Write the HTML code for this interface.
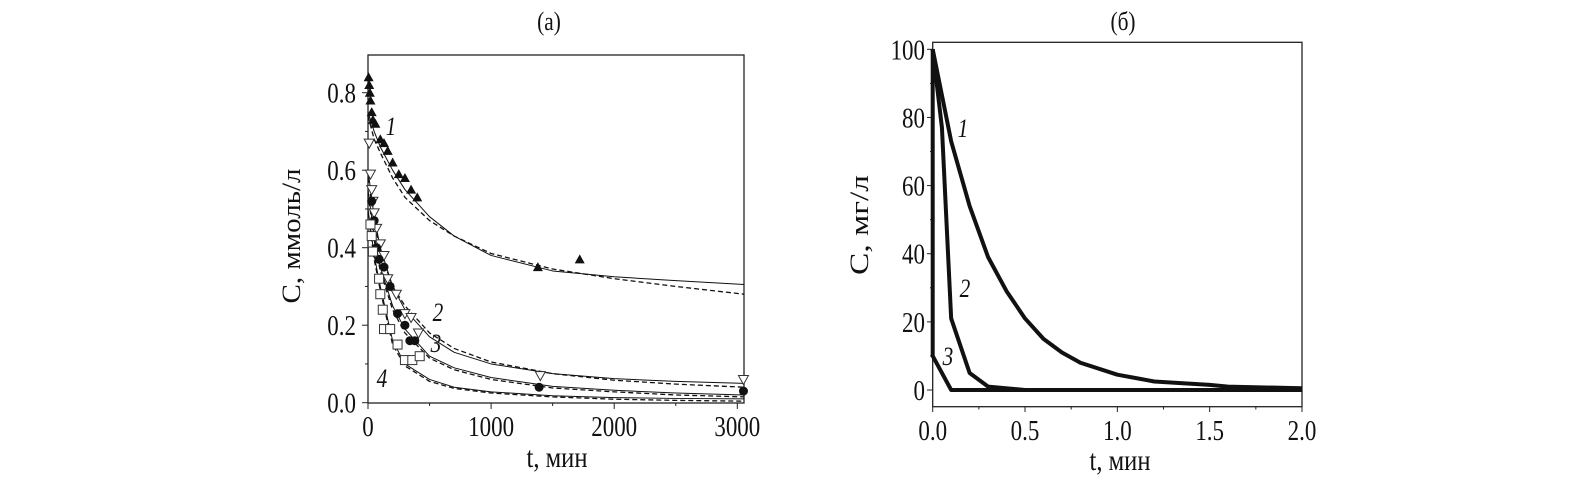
<!DOCTYPE html>
<html><head><meta charset="utf-8"><style>
body{margin:0;background:#fff;}
svg{display:block;font-family:"Liberation Serif",serif;}
</style></head><body>
<svg id="chart" width="1594" height="479" viewBox="0 0 1594 479" xmlns="http://www.w3.org/2000/svg">
<g id="pa"></g>
<g id="pb"></g>
</svg>
<script>
// Panel (a) data
const aTicksX = [0, 1000, 2000, 3000];
const aTicksY = [0.0, 0.2, 0.4, 0.6, 0.8];
const aFitT = [0, 50, 100, 200, 300, 500, 700, 1000, 1500, 2000, 2500, 3055];
const a1Solid = [0.75, 0.70, 0.66, 0.60, 0.55, 0.48, 0.43, 0.38, 0.34, 0.325, 0.315, 0.305];
const a1Dash = [0.74, 0.68, 0.645, 0.58, 0.53, 0.47, 0.43, 0.385, 0.345, 0.32, 0.30, 0.28];
const a2Solid = [0.60, 0.48, 0.40, 0.30, 0.24, 0.17, 0.13, 0.10, 0.075, 0.062, 0.055, 0.05];
const a2Dash = [0.58, 0.47, 0.39, 0.30, 0.25, 0.18, 0.14, 0.105, 0.075, 0.058, 0.048, 0.04];
const a3Solid = [0.55, 0.43, 0.35, 0.25, 0.19, 0.12, 0.09, 0.065, 0.042, 0.032, 0.025, 0.02];
const a3Dash = [0.54, 0.42, 0.34, 0.24, 0.18, 0.115, 0.085, 0.06, 0.038, 0.028, 0.02, 0.015];
const a4Solid = [0.50, 0.38, 0.30, 0.16, 0.10, 0.06, 0.04, 0.028, 0.018, 0.013, 0.011, 0.01];
const a4Dash = [0.49, 0.37, 0.29, 0.15, 0.095, 0.055, 0.037, 0.025, 0.015, 0.009, 0.006, 0.004];
const m1T = [5,10,15,20,30,40,60,100,130,160,200,250,300,350,400,1380,1720];
const m1C = [0.84,0.82,0.80,0.78,0.75,0.73,0.72,0.68,0.67,0.65,0.62,0.59,0.58,0.55,0.53,0.35,0.37];
const m2T = [10,20,30,40,50,70,100,130,160,230,300,350,410,1400,3050];
const m2C = [0.67,0.59,0.55,0.52,0.49,0.45,0.41,0.38,0.32,0.28,0.23,0.22,0.18,0.07,0.06];
const m3T = [30,50,70,90,130,180,240,300,340,380,1390,3050];
const m3C = [0.52,0.47,0.40,0.37,0.35,0.30,0.23,0.20,0.16,0.16,0.04,0.03];
const m4T = [20,30,40,90,100,120,130,180,240,300,360,420];
const m4C = [0.46,0.43,0.39,0.32,0.28,0.24,0.19,0.19,0.15,0.11,0.11,0.12];
// Panel (б) data
const bTicksX = [0.0, 0.5, 1.0, 1.5, 2.0];
const bTicksY = [0, 20, 40, 60, 80, 100];
const b1T = [0,0.1,0.2,0.3,0.4,0.5,0.6,0.7,0.8,1.0,1.2,1.5,1.6,2.0];
const b1C = [100,73,54,39,29,21,15,11,8,4.5,2.5,1.5,1,0.5];
const b2T = [0,0.05,0.1,0.2,0.3,0.5,2.0];
const b2C = [100,77,21,5,1,0,0];
const b3T = [0,0,0.1,2.0];
const b3C = [100,10,0,0];

const NS="http://www.w3.org/2000/svg";
function mk(parent,tag,attrs){const e=document.createElementNS(NS,tag);for(const k in attrs)e.setAttribute(k,attrs[k]);parent.appendChild(e);return e;}
function txt(parent,x,y,s,size,extra,sx){
  const t=mk(parent,'text',Object.assign({x:0,y:0,'font-size':size,'text-anchor':'middle',fill:'#111',transform:`translate(${x},${y}) scale(${sx||0.82},1)`},extra||{}));
  t.textContent=s;return t;}

// Panel a scales
const ax=t=>368+t*(737.3-368)/3000;
const ay=c=>402.7-c*(402.7-92.7)/0.8;
const pa=document.getElementById('pa');
let r=mk(pa,'rect',{x:368,y:55,width:376,height:348,fill:'none',stroke:'#222','stroke-width':1.3});


aTicksX.forEach(v=>{
  const l=mk(pa,'line',{x1:ax(v),x2:ax(v),y1:403,y2:409,stroke:'#222'});
  
  const t=txt(pa,ax(v),436,String(v),28);
  
});
[500,1500,2500].forEach(v=>{mk(pa,'line',{x1:ax(v),x2:ax(v),y1:403,y2:406,stroke:'#222'});});
aTicksY.forEach(v=>{
  const l=mk(pa,'line',{x1:362,x2:368,y1:ay(v),y2:ay(v),stroke:'#222'});
  
  const t=txt(pa,356,ay(v)+10,v.toFixed(1),28,{'text-anchor':'end'});
  
});
[0.1,0.3,0.5,0.7].forEach(v=>{mk(pa,'line',{x1:365,x2:368,y1:ay(v),y2:ay(v),stroke:'#222'});});
function pl(parent,T,C,fx,fy,w,dash,name){
  const p=mk(parent,'polyline',{points:T.map((t,i)=>fx(t)+','+fy(C[i])).join(' '),fill:'none',stroke:'#111','stroke-width':w,'stroke-linejoin':'round'});
  if(dash)p.setAttribute('stroke-dasharray',dash);
  
  
}
pl(pa,aFitT,a1Solid,ax,ay,1,null,'curve-1-fit');
pl(pa,aFitT,a1Dash,ax,ay,1.3,'5,3','curve-1-dashed');
pl(pa,aFitT,a2Solid,ax,ay,1,null,'curve-2-fit');
pl(pa,aFitT,a2Dash,ax,ay,1.3,'5,3','curve-2-dashed');
pl(pa,aFitT,a3Solid,ax,ay,1,null,'curve-3-fit');
pl(pa,aFitT,a3Dash,ax,ay,1.3,'5,3','curve-3-dashed');
pl(pa,aFitT,a4Solid,ax,ay,1,null,'curve-4-fit');
pl(pa,aFitT,a4Dash,ax,ay,1.3,'5,3','curve-4-dashed');
function markers(T,C,kind,name){
  T.forEach((t,i)=>{
    const x=ax(t),y=ay(C[i]);let e;
    if(kind==='tu')e=mk(pa,'polygon',{points:`${x},${y-5} ${x-5},${y+4} ${x+5},${y+4}`,fill:'#111'});
    else if(kind==='td')e=mk(pa,'polygon',{points:`${x},${y+5} ${x-5},${y-4} ${x+5},${y-4}`,fill:'#fff',stroke:'#333'});
    else if(kind==='c')e=mk(pa,'circle',{cx:x,cy:y,r:4.5,fill:'#111'});
    else e=mk(pa,'rect',{x:x-4.5,y:y-4.5,width:9,height:9,fill:'#fff',stroke:'#333'});
    
    
  });
}
markers(m1T,m1C,'tu','marker-series-1');
markers(m2T,m2C,'td','marker-series-2');
markers(m3T,m3C,'c','marker-series-3');
markers(m4T,m4C,'s','marker-series-4');
[['1',391,135],['2',438,321],['3',436,352],['4',382,387]].forEach(a=>{
  const t=txt(pa,a[1],a[2],a[0],26,{'font-style':'italic'});
  
});
let t=txt(pa,549,30,'(a)',26);
t=txt(pa,557,467,'t, мин',30);
t=mk(pa,'text',{x:0,y:0,'font-size':26,'text-anchor':'middle',fill:'#111',textLength:135,lengthAdjust:'spacingAndGlyphs',transform:'translate(300,236) rotate(-90)'});
t.textContent='C, ммоль/л';


// Panel b
const bx=v=>932.7+v*(1302-932.7)/2;
const by=v=>390-v*(390-49.3)/100;
const pb=document.getElementById('pb');
r=mk(pb,'rect',{x:932.7,y:42.3,width:369.3,height:364.4,fill:'none',stroke:'#222','stroke-width':1.3});


bTicksX.forEach(v=>{
  const l=mk(pb,'line',{x1:bx(v),x2:bx(v),y1:406.7,y2:412,stroke:'#222'});
  
  const t=txt(pb,bx(v),440,v.toFixed(1),28);
  
});
[0.25,0.75,1.25,1.75].forEach(v=>{mk(pb,'line',{x1:bx(v),x2:bx(v),y1:406.7,y2:409.5,stroke:'#222'});});
bTicksY.forEach(v=>{
  const l=mk(pb,'line',{x1:927,x2:932.7,y1:by(v),y2:by(v),stroke:'#222'});
  
  const t=txt(pb,925,by(v)+10,String(v),28,{'text-anchor':'end'});
  
});
[10,30,50,70,90].forEach(v=>{mk(pb,'line',{x1:930,x2:932.7,y1:by(v),y2:by(v),stroke:'#222'});});
pl(pb,b1T,b1C,bx,by,4,null,'curve-b-1');
pl(pb,b2T,b2C,bx,by,4,null,'curve-b-2');
pl(pb,b3T,b3C,bx,by,4,null,'curve-b-3');
[['1',963,137],['2',965,297],['3',948,365]].forEach(a=>{
  const t=txt(pb,a[1],a[2],a[0],26,{'font-style':'italic'});
  
});
t=txt(pb,1123,30,'(б)',26);
t=txt(pb,1120,470,'t, мин',30);
t=mk(pb,'text',{x:0,y:0,'font-size':26,'text-anchor':'middle',fill:'#111',textLength:100,lengthAdjust:'spacingAndGlyphs',transform:'translate(868,225) rotate(-90)'});
t.textContent='C, мг/л';

</script>
</body></html>
